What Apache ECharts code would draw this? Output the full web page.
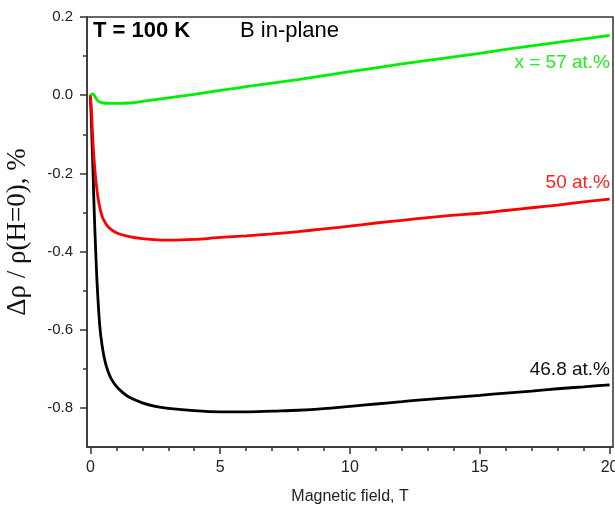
<!DOCTYPE html>
<html>
<head>
<meta charset="utf-8">
<script src="https://cdn.jsdelivr.net/npm/echarts@6/dist/echarts.min.js"></script>
<style>
  html, body { margin: 0; padding: 0; background: #fff; }
  #chart { width: 615px; height: 511px; }
</style>
</head>
<body>
<div id="chart"></div>
<script>
// Magnetoresistance at T = 100 K, field in plane, three compositions
const field57 = [0, 0.1, 0.2, 0.3, 0.5, 1, 1.5, 2, 3, 4, 5, 6, 7, 8, 9, 10, 12, 14, 15, 16, 18, 20];
const mr57 = [0, 0.003, -0.006, -0.015, -0.02, -0.021, -0.02, -0.016, -0.007, 0.002, 0.012, 0.022, 0.031, 0.04, 0.05, 0.06, 0.08, 0.098, 0.107, 0.117, 0.135, 0.153];

const field50 = [0, 0.05, 0.1, 0.15, 0.2, 0.25, 0.3, 0.4, 0.5, 0.7, 1, 1.5, 2, 3, 4, 5, 6, 7, 8, 9, 10, 11, 12, 13, 14, 15, 16, 17, 18, 19, 20];
const mr50 = [0, -0.05, -0.12, -0.17, -0.21, -0.24, -0.265, -0.298, -0.318, -0.338, -0.352, -0.362, -0.367, -0.371, -0.369, -0.364, -0.36, -0.355, -0.349, -0.342, -0.335, -0.327, -0.32, -0.313, -0.307, -0.302, -0.295, -0.288, -0.281, -0.273, -0.266];

const field468 = [0, 0.03, 0.06, 0.1, 0.13, 0.16, 0.2, 0.25, 0.3, 0.35, 0.4, 0.5, 0.6, 0.7, 0.8, 1, 1.25, 1.5, 2, 2.5, 3, 4, 5, 6, 7, 8, 9, 10, 11, 12, 13, 14, 15, 16, 17, 18, 19, 20];
const mr468 = [0, -0.05, -0.11, -0.19, -0.26, -0.32, -0.39, -0.47, -0.53, -0.58, -0.615, -0.66, -0.69, -0.71, -0.725, -0.745, -0.761, -0.773, -0.787, -0.796, -0.801, -0.807, -0.81, -0.81, -0.808, -0.806, -0.802, -0.796, -0.79, -0.784, -0.778, -0.773, -0.768, -0.762, -0.757, -0.751, -0.746, -0.741];

const xMajor = [0, 5, 10, 15, 20];
const xMinor = [1, 2, 3, 4, 6, 7, 8, 9, 11, 12, 13, 14, 16, 17, 18, 19];
const yMajor = [-0.8, -0.6, -0.4, -0.2, 0, 0.2];
const yMinor = [-0.7, -0.5, -0.3, -0.1, 0.1];

const pair = (xs, ys) => xs.map((x, i) => [x, ys[i]]);

const axisColor = '#333';
const sans = '"Liberation Sans", Arial, sans-serif';
const labelFont = { fontFamily: sans, fontSize: 15, color: '#222' };

const chart = echarts.init(document.getElementById('chart'), null, { renderer: 'canvas' });

const lineSeries = (name, xs, ys, color) => ({
  name, type: 'line', xAxisIndex: 0, yAxisIndex: 0,
  data: pair(xs, ys), showSymbol: false, smooth: 0.3,
  lineStyle: { color, width: 2.8 }
});

chart.setOption({
  animation: false,
  backgroundColor: '#fff',
  grid: {
    left: 87, right: 2, top: 17, bottom: 64,
    outerBoundsMode: 'none', containLabel: false,
    show: true, borderColor: axisColor, borderWidth: 1.5, backgroundColor: 'transparent'
  },
  xAxis: [
    {
      type: 'value', min: -0.13, max: 20.13,
      name: 'Magnetic field, T', nameLocation: 'middle', nameGap: 42,
      nameTextStyle: { fontFamily: sans, fontSize: 16, color: '#222' },
      axisLine: { show: true, onZero: false, lineStyle: { color: axisColor, width: 1.5 } },
      axisTick: { show: true, inside: false, length: 7, customValues: xMajor, lineStyle: { color: axisColor, width: 1.5 } },
      axisLabel: { customValues: xMajor, margin: 13, fontSize: 16, fontFamily: sans, color: '#222' },
      splitLine: { show: false }
    },
    {
      type: 'value', min: -0.13, max: 20.13, position: 'bottom',
      axisLine: { show: false, onZero: false },
      axisTick: { show: true, inside: false, length: 4, customValues: xMinor, lineStyle: { color: axisColor, width: 1.5 } },
      axisLabel: { show: false },
      splitLine: { show: false }
    }
  ],
  yAxis: [
    {
      type: 'value', min: -0.9, max: 0.2,
      name: 'Δρ / ρ(H=0), %', nameLocation: 'middle', nameGap: 56, nameRotate: 90,
      nameTextStyle: { fontFamily: '"Liberation Serif", "Times New Roman", serif', fontSize: 27, color: '#111' },
      axisLine: { show: true, onZero: false, lineStyle: { color: axisColor, width: 1.5 } },
      axisTick: { show: true, inside: false, length: 7, customValues: yMajor, lineStyle: { color: axisColor, width: 1.5 } },
      axisLabel: Object.assign({ customValues: yMajor, margin: 14, formatter: v => v.toFixed(1) }, labelFont),
      splitLine: { show: false }
    },
    {
      type: 'value', min: -0.9, max: 0.2, position: 'left',
      axisLine: { show: false, onZero: false },
      axisTick: { show: true, inside: false, length: 4, customValues: yMinor, lineStyle: { color: axisColor, width: 1.5 } },
      axisLabel: { show: false },
      splitLine: { show: false }
    }
  ],
  series: [
    lineSeries('46.8 at.%', field468, mr468, '#000000'),
    lineSeries('50 at.%', field50, mr50, '#ff0000'),
    lineSeries('x = 57 at.%', field57, mr57, '#00ee00')
  ],
  graphic: [
    { type: 'text', left: 93, top: 20, style: { text: 'T = 100 K', font: 'bold 22px ' + sans, fill: '#000' } },
    { type: 'text', left: 240, top: 20, style: { text: 'B in-plane', font: '22px ' + sans, fill: '#000' } },
    { type: 'text', right: 5, top: 53, style: { text: 'x = 57 at.%', font: '19px ' + sans, fill: '#22ee22' } },
    { type: 'text', right: 5, top: 173, style: { text: '50 at.%', font: '19px ' + sans, fill: '#ff2222' } },
    { type: 'text', right: 5, top: 360, style: { text: '46.8 at.%', font: '19px ' + sans, fill: '#111' } }
  ]
});
</script>
</body>
</html>
